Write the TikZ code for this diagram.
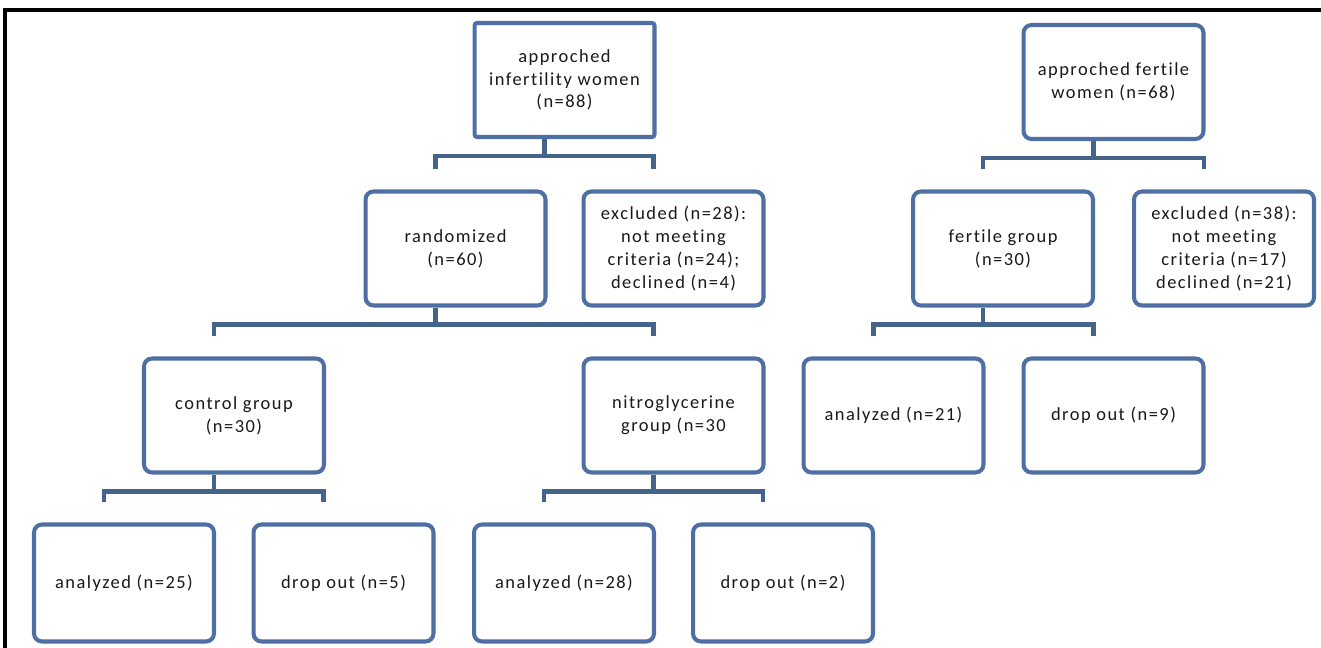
\documentclass[tikz,border=0pt]{standalone}
\usepackage{fontspec}
\setmainfont{Carlito}[LetterSpace=8, Ligatures=NoCommon]
\usetikzlibrary{calc}
\definecolor{boxblue}{RGB}{78,111,163}
\definecolor{connblue}{RGB}{68,100,140}
\newcommand{\fork}[3]{% parent, left child, right child
  \draw[conn] ([xshift=-0.4cm]#1.south) -- ++(0,17) coordinate (#1-h);
  \draw[conn] ([xshift=-0.4cm,yshift=0.4cm]#2.north) |- (#1-h) -| ([xshift=-0.4cm,yshift=0.4cm]#3.north);
}
\begin{document}
\begin{tikzpicture}[x=0.02cm, y=-0.02cm,
  every node/.style = {font=\fontsize{10.5}{13}\selectfont, text=black!90},
  flowbox/.style = {shape=rectangle, rounded corners=0.16cm,
    draw=boxblue, line width=2.3pt, fill=white, align=center,
    minimum width=3.6cm, minimum height=2.28cm, inner sep=1pt},
  lowbox/.style = {flowbox, minimum height=2.34cm},
  conn/.style = {draw=connblue, line width=2.6pt}]
  \useasboundingbox (0,0) rectangle (1321,648);
  % frame
  \draw[line width=1.8pt] (5,660) -- (5,10) -- (1330,10);

  % infertility branch
  \node[flowbox, rounded corners=0.05cm] (inf) at (564.5,80) {approched\\infertility women\\(n=88)};
  \node[flowbox] (rand) at (455.5,248.5) {randomized\\(n=60)};
  \node[flowbox] (exc1) at (673.5,248.5) {excluded (n=28):\\not meeting\\criteria (n=24);\\declined (n=4)};
  \node[flowbox] (ctrl) at (234,415.5) {control group\\(n=30)};
  \node[flowbox] (nitro) at (673.5,415.5) {nitroglycerine\\group (n=30};
  \node[lowbox] (an25) at (124,583) {analyzed (n=25)};
  \node[lowbox] (dr5) at (343.5,583) {drop out (n=5)};
  \node[lowbox] (an28) at (564,583) {analyzed (n=28)};
  \node[lowbox] (dr2) at (783,583) {drop out (n=2)};

  % fertile branch
  \node[flowbox] (fer) at (1113.5,82) {approched fertile\\women (n=68)};
  \node[flowbox] (fgrp) at (1003,248.5) {fertile group\\(n=30)};
  \node[flowbox] (exc2) at (1224,248.5) {excluded (n=38):\\not meeting\\criteria (n=17)\\declined (n=21)};
  \node[flowbox] (an21) at (893.5,415.5) {analyzed (n=21)};
  \node[flowbox] (dr9) at (1113.5,415.5) {drop out (n=9)};

  \fork{inf}{rand}{exc1}
  \fork{rand}{ctrl}{nitro}
  \fork{ctrl}{an25}{dr5}
  \fork{nitro}{an28}{dr2}
  \fork{fer}{fgrp}{exc2}
  \fork{fgrp}{an21}{dr9}
\end{tikzpicture}
\end{document}
